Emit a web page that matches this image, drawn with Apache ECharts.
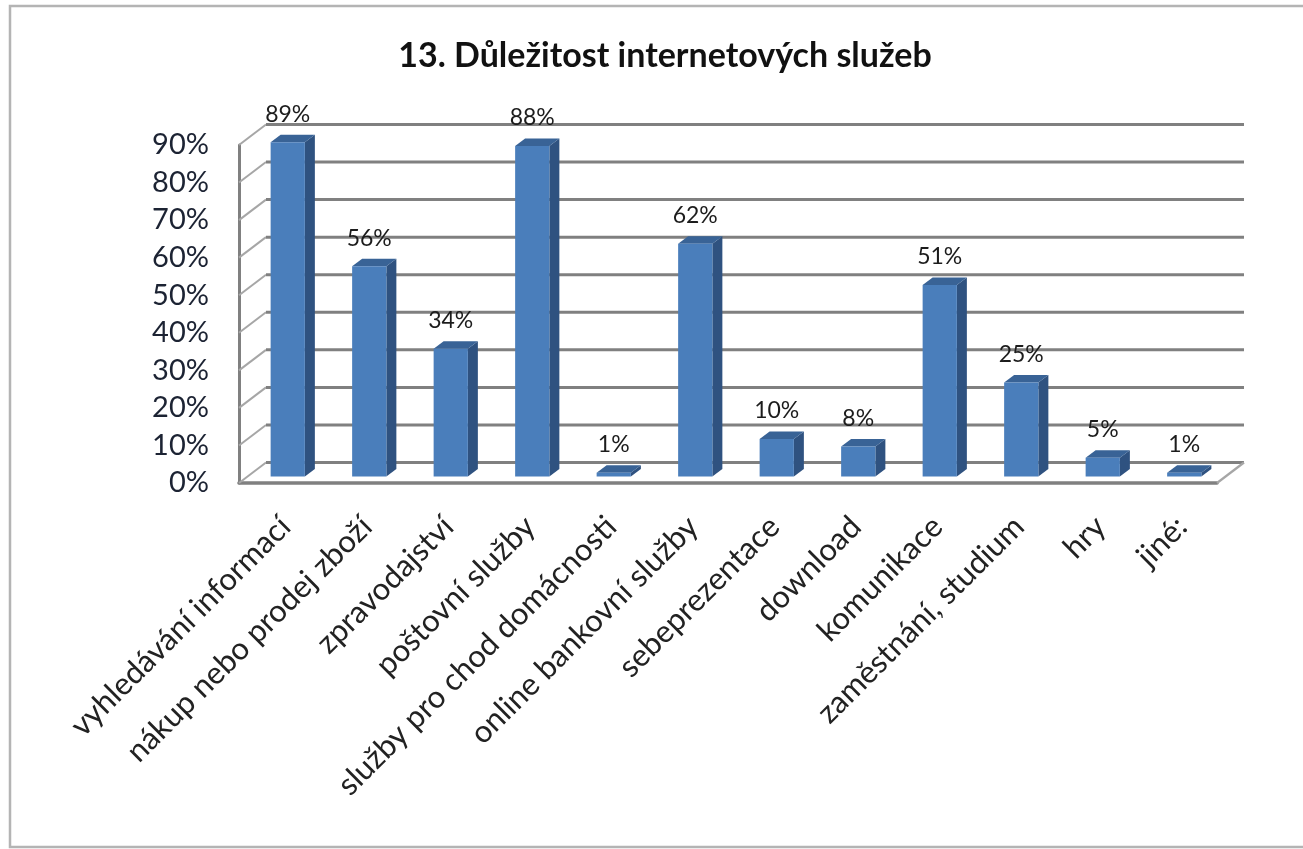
<!DOCTYPE html>
<html>
<head>
<meta charset="utf-8">
<style>
html,body{margin:0;padding:0;background:#fff;}
#c{width:1303px;height:849px;filter:blur(0.7px);}
</style>
<script src="https://cdn.jsdelivr.net/npm/echarts@6/dist/echarts.min.js"></script>
</head>
<body>
<div id="c"></div>
<script>
const titleText = '13. Důležitost internetových služeb';
const categories = ['vyhledávání informací','nákup nebo prodej zboží','zpravodajství','poštovní služby','služby pro chod domácnosti','online bankovní služby','sebeprezentace','download','komunikace','zaměstnání, studium','hry','jiné:'];
const values = [89,56,34,88,1,62,10,8,51,25,5,1];
const yTicks = [0,10,20,30,40,50,60,70,80,90];

const FONT = 'Lato, "Open Sans", sans-serif';
const WALL_DX = 27, WALL_DY = -20.5;
const BAR_DX = 10, BAR_DY = -7.5, BAR_OFF_X = 8, BAR_OFF_Y = -6.5;
const GRID = '#808080';

const chart = echarts.init(document.getElementById('c'), null, {renderer:'canvas'});

function renderWall(params, api){
  const v = api.value(0);
  const p = api.coord([0, v]);
  const band = api.size([1,0])[0];
  const x0 = p[0]-band/2, y = p[1];
  const x1 = x0 + band*categories.length;
  const children = [
    {type:'line', shape:{x1:x0,y1:y,x2:x0+WALL_DX,y2:y+WALL_DY}, style:{stroke:'#a6a6a6',lineWidth:2}},
    {type:'line', shape:{x1:x0+WALL_DX,y1:y+WALL_DY,x2:x1+WALL_DX,y2:y+WALL_DY}, style:{stroke:GRID,lineWidth:3}}
  ];
  if(v===0){
    children.push({type:'line', shape:{x1:x1,y1:y,x2:x1+WALL_DX,y2:y+WALL_DY}, style:{stroke:'#a6a6a6',lineWidth:2.2}});
  }
  return {type:'group', children};
}

function renderBar(params, api){
  const i = api.value(0), v = api.value(1);
  const top = api.coord([i, v]);
  const base = api.coord([i, 0]);
  const w = api.size([1,0])[0]*0.42;
  const xl = top[0]-w/2+BAR_OFF_X, xr = xl+w;
  const yt = top[1]+BAR_OFF_Y, yb = base[1]+BAR_OFF_Y;
  return {type:'group', children:[
    {type:'polygon', shape:{points:[[xr,yt],[xr+BAR_DX,yt+BAR_DY],[xr+BAR_DX,yb+BAR_DY],[xr,yb]]}, style:{fill:'#2f5280'}},
    {type:'polygon', shape:{points:[[xl,yt],[xl+BAR_DX,yt+BAR_DY],[xr+BAR_DX,yt+BAR_DY],[xr,yt]]}, style:{fill:'#396396'}},
    {type:'rect', shape:{x:xl,y:yt,width:w,height:yb-yt}, style:{fill:'#4a7ebb'}},
    {type:'text', style:{x:top[0]+8,y:yt-28,text:v+'%',fill:'#1c1c1c',font:'23px '+FONT,align:'center',verticalAlign:'middle'}}
  ]};
}

chart.setOption({
  animation:false,
  backgroundColor:'#fff',
  title:{text:titleText,left:660,top:34,textAlign:'center',textStyle:{fontFamily:FONT,fontWeight:'bold',fontSize:34,color:'#111'}},
  grid:{left:239,top:145,width:978,height:338,containLabel:false},
  xAxis:{type:'category',data:categories,
    axisLine:{show:true,lineStyle:{color:GRID,width:3.6}},
    axisTick:{show:false},
    axisLabel:{interval:0,rotate:45,fontFamily:FONT,fontSize:31,color:'#222',margin:33,verticalAlign:'top',lineHeight:16}},
  yAxis:{type:'value',min:0,max:90,interval:10,
    axisLine:{show:true,lineStyle:{color:GRID,width:3}},
    axisTick:{show:false},splitLine:{show:false},
    axisLabel:{formatter:'{value}%',fontFamily:FONT,fontSize:29,color:'#1c2333',margin:30,verticalAlign:'middle',lineHeight:30,padding:[4,0,0,0],showMinLabel:true,showMaxLabel:true,hideOverlap:false}},
  graphic:[{type:'polyline',silent:true,z:-1,
    shape:{points:[[1304,6],[10,6],[10,847],[1304,847]]},
    style:{fill:null,stroke:'#b4b4b4',lineWidth:2.5}}],
  series:[
    {type:'custom',name:'wall',renderItem:renderWall,data:yTicks.map(t=>[t]),encode:{y:0},silent:true,z:1},
    {type:'custom',name:'Důležitost',renderItem:renderBar,data:values.map((v,i)=>[i,v]),encode:{x:0,y:1},z:3}
  ]
});
</script>
</body>
</html>
